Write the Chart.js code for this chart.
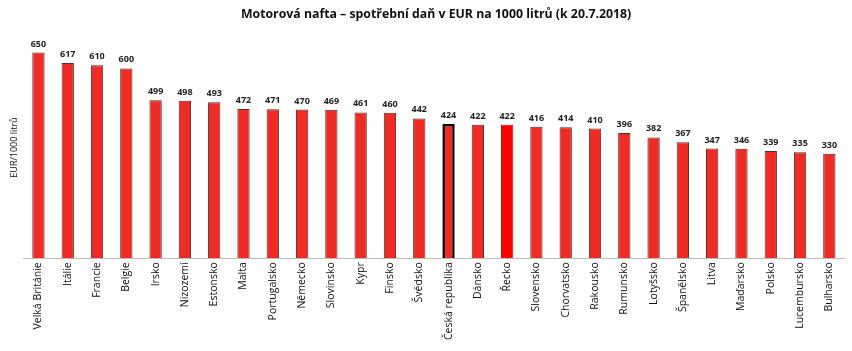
<!DOCTYPE html>
<html>
<head>
<meta charset="utf-8">
<script src="https://cdn.jsdelivr.net/npm/chart.js@4"></script>
<style>
  html, body { margin: 0; padding: 0; background: #fff; }
  #wrap { width: 852px; height: 351px; }
</style>
</head>
<body>
<div id="wrap"><canvas id="naftaChart"></canvas></div>
<script>
// Kategorie a hodnoty (EUR na 1000 litrů)
var zeme = ['Velká Británie', 'Itálie', 'Francie', 'Belgie', 'Irsko', 'Nizozemí', 'Estonsko', 'Malta',
    'Portugalsko', 'Německo', 'Slovinsko', 'Kypr', 'Finsko', 'Švédsko', 'Česká republika', 'Dánsko',
    'Řecko', 'Slovensko', 'Chorvatsko', 'Rakousko', 'Rumunsko', 'Lotyšsko', 'Španělsko', 'Litva',
    'Maďarsko', 'Polsko', 'Lucembursko', 'Bulharsko'];
var dan = [650, 617, 610, 600, 499, 498, 493, 472, 471, 470, 469, 461, 460, 442, 424, 422,
    422, 416, 414, 410, 396, 382, 367, 347, 346, 339, 335, 330];

var FONT = 'Open Sans';

// barvy sloupců - ČR zvýrazněná černým rámečkem, Řecko čistě červené
var barvy = zeme.map(function(z) { return z === 'Řecko' ? '#ff0000' : '#ee2b24'; });
var ramecky = zeme.map(function(z) { return z === 'Česká republika' ? '#000000' : (z === 'Řecko' ? '#d40000' : '#5a2a28'); });
var sirky = zeme.map(function(z) { return z === 'Česká republika' ? 2.5 : 1; });

// popisky hodnot nad sloupci
var hodnotyPlugin = {
    id: 'hodnoty',
    afterDatasetsDraw: function(chart) {
        var ctx = chart.ctx;
        var meta = chart.getDatasetMeta(0);
        ctx.save();
        ctx.font = 'bold 9px "' + FONT + '"';
        ctx.fillStyle = '#222';
        ctx.textAlign = 'center';
        ctx.textBaseline = 'bottom';
        meta.data.forEach(function(bar, i) {
            ctx.fillText(dan[i], bar.x, bar.y - 4);
        });
        ctx.restore();
    }
};

var ctx = document.getElementById('naftaChart').getContext('2d');
new Chart(ctx, {
    type: 'bar',
    data: {
        labels: zeme,
        datasets: [{
            data: dan,
            backgroundColor: barvy,
            borderColor: ramecky,
            borderWidth: sirky,
            barPercentage: 0.84,
            categoryPercentage: 0.5
        }]
    },
    options: {
        responsive: true,
        maintainAspectRatio: false,
        animation: false,
        layout: { padding: { left: 9, right: 8, top: 0, bottom: 7 } },
        plugins: {
            legend: { display: false },
            tooltip: { enabled: false },
            title: {
                display: true,
                // mezery na začátku posouvají nadpis nad střed grafu
                text: '\u00a0\u00a0\u00a0\u00a0\u00a0\u00a0Motorová nafta – spotřební daň v EUR na 1000 litrů (k 20.7.2018)',
                color: '#111',
                font: { family: FONT, size: 12.3, weight: 'bold' },
                padding: { top: 7, bottom: 15 }
            }
        },
        scales: {
            x: {
                grid: { display: false, drawTicks: false },
                border: { display: true, color: '#bdbdbd', width: 1 },
                ticks: {
                    autoSkip: false,
                    maxRotation: 90,
                    minRotation: 90,
                    padding: 4,
                    color: '#111',
                    font: { family: FONT, size: 10.5 }
                }
            },
            y: {
                min: 0,
                max: 700,
                grid: { display: false, drawTicks: false },
                border: { display: false },
                ticks: { display: false },
                title: {
                    display: true,
                    text: 'EUR/1000 litrů',
                    color: '#111',
                    font: { family: FONT, size: 9 },
                    padding: { top: 0, bottom: 4 }
                }
            }
        }
    },
    plugins: [hodnotyPlugin]
});
</script>
</body>
</html>
